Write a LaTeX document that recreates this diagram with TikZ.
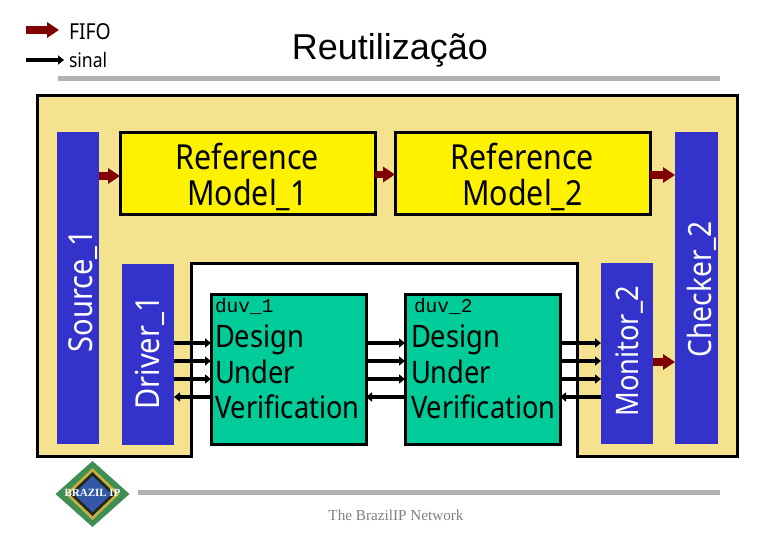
\documentclass[tikz,border=0pt]{standalone}
\usepackage{fontspec}
\setmainfont[FakeStretch=0.88]{Noto Sans}
\newfontfamily\titlefont{Liberation Sans}
\newfontfamily\duvfont{Liberation Mono}
\newfontfamily\footfont{Liberation Serif}
\usepackage{xcolor}
\usetikzlibrary{arrows.meta,positioning,shapes.geometric,calc}
\definecolor{framefill}{HTML}{F5E28E}
\definecolor{blockblue}{HTML}{3333CC}
\definecolor{duvgreen}{HTML}{00CC99}
\definecolor{fifored}{HTML}{800000}
\definecolor{rulegray}{HTML}{B2B2B2}
\definecolor{logogreen}{HTML}{3F8F55}
\definecolor{logogold}{HTML}{C8B040}
\definecolor{logodark}{HTML}{20281C}
\definecolor{logoblue}{HTML}{3358A8}
\newcommand{\reftop}{\rule{0pt}{32pt}}
\begin{document}
\begin{tikzpicture}[x=1pt,y=-1pt,
  every node/.style={outer sep=0pt,inner sep=0pt},
  tb/.style={fill=blockblue,rotate=90,anchor=center},
  tblab/.style={text=white,rotate=90,font=\fontsize{#1}{#1}\selectfont},
  refbox/.style={rectangle,draw=black,line width=3pt,fill=yellow,align=center,minimum width=255pt,minimum height=82pt,font=\fontsize{34.5}{36}\selectfont},
  duvbox/.style={rectangle,draw=black,line width=3pt,fill=duvgreen,minimum width=155pt,minimum height=149pt},
  duvtext/.style={align=left,anchor=north west,font=\fontsize{31}{35.5}\selectfont},
  duvname/.style={anchor=north west,font=\duvfont\fontsize{19.5}{19.5}\selectfont},
  sig/.style={-{Triangle[length=6pt,width=9pt]},line width=3.5pt,black},
  fifo/.style={-{Triangle[length=12pt,width=15pt]},line width=7.5pt,fifored},
  rulebar/.style={line width=5pt,rulegray},
  gem/.style={diamond,minimum width=#1}]
\useasboundingbox (0,0) rectangle (780,540);
% frame
\draw[line width=3pt,fill=framefill] (37,96) -- (737,96) -- (737,456) -- (577,456) -- (577,264)
  -- (191,264) -- (191,456) -- (37,456) -- cycle;
% title and rules
\node[font=\titlefont\fontsize{36}{36}\selectfont] (title) at (390,50.5) {Reutilização};
\coordinate (ruletopa) at (58,78.5); \coordinate (ruletopb) at (720,78.5);
\coordinate (rulebota) at (138,492); \coordinate (rulebotb) at (720,492);
\draw[rulebar] (ruletopa)--(ruletopb);
\draw[rulebar] (rulebota)--(rulebotb);
% legend
\coordinate (fifoa) at (26,30); \coordinate (fifob) at (59,30);
\coordinate (siga) at (26,60); \coordinate (sigb) at (64,60);
\draw[fifo] (fifoa)--(fifob);
\draw[sig] (siga)--(sigb);
\node[anchor=west,font=\fontsize{22}{22}\selectfont] (fifolab) at (69,32) {FIFO};
\node[anchor=west,font=\fontsize{20}{20}\selectfont] (siglab) at (69,60) {sinal};
% testbench blocks
\node[tb,minimum width=312pt,minimum height=42pt] (source) at (78,288) {};
\node[tb,minimum width=181pt,minimum height=52pt] (driver) at (148,354.5) {};
\node[tb,minimum width=180pt,minimum height=52pt] (monitor) at (627,353.5) {};
\node[tb,minimum width=312pt,minimum height=43pt] (checker) at (696.5,288) {};
\node[tblab=33] (sourcelab) at (83,291) {Source\_1};
\node[tblab=33] (driverlab) at (150,353) {Driver\_1};
\node[tblab=31] (monitorlab) at (629,351.5) {Monitor\_2};
\node[tblab=32] (checkerlab) at (702,289.5) {Checker\_2};
% reference models
\node[refbox] (refone) at (247.5,174) {\reftop Reference\\Model\_1};
\node[refbox,right=20pt of refone] (reftwo) {\reftop Reference\\Model\_2};
% duvs
\node[duvbox] (duvone) at (288.5,369.5) {};
\node[duvbox,right=39pt of duvone] (duvtwo) {};
\node[duvname] (nameone) at (215,298.5) {duv\_1};
\node[duvname] (nametwo) at (414,298.5) {duv\_2};
\node[duvtext] (textone) at (215,325) {Design\\Under\\Verification};
\node[duvtext] (texttwo) at (411,325) {Design\\Under\\Verification};
% signals
\foreach \y in {343,361,379} {
  \draw[sig] (driver.south |- 0,\y) -- (duvone.west |- 0,\y);
  \draw[sig] (duvone.east |- 0,\y) -- (duvtwo.west |- 0,\y);
  \draw[sig] (duvtwo.east |- 0,\y) -- (monitor.north |- 0,\y);
}
\draw[sig] (duvone.west |- 0,397) -- (driver.south |- 0,397);
\draw[sig] (duvtwo.west |- 0,397) -- (duvone.east |- 0,397);
\draw[sig] (monitor.north |- 0,397) -- (duvtwo.east |- 0,397);
% fifos
\draw[fifo] (source.south |- 0,176) -- (refone.west |- 0,176);
\draw[fifo] (refone.east |- 0,174.5) -- (reftwo.west |- 0,174.5);
\draw[fifo] (reftwo.east |- 0,175) -- (checker.north |- 0,175);
\draw[fifo] (monitor.south |- 0,362) -- (checker.north |- 0,362);
% logo
\node[gem=74pt,minimum height=66pt,aspect=1.1,fill=logogreen] (logoa) at (92.5,494) {};
\node[gem=54pt,minimum height=52pt,aspect=1.05,fill=logogold] (logob) at (logoa) {};
\node[gem=46pt,minimum height=44pt,aspect=1.05,fill=logodark] (logoc) at (logoa) {};
\node[gem=38pt,minimum height=36pt,aspect=1.05,fill=logoblue] (logod) at (logoa) {};
\node[text=white,font=\footfont\bfseries\fontsize{11}{11}\selectfont] (logolab) at (92.5,492.5) {BRAZIL IP};
\node[text=gray,font=\footfont\fontsize{15.2}{15.2}\selectfont] (foot) at (396,515.5) {The BrazilIP Network};
\end{tikzpicture}
\end{document}
